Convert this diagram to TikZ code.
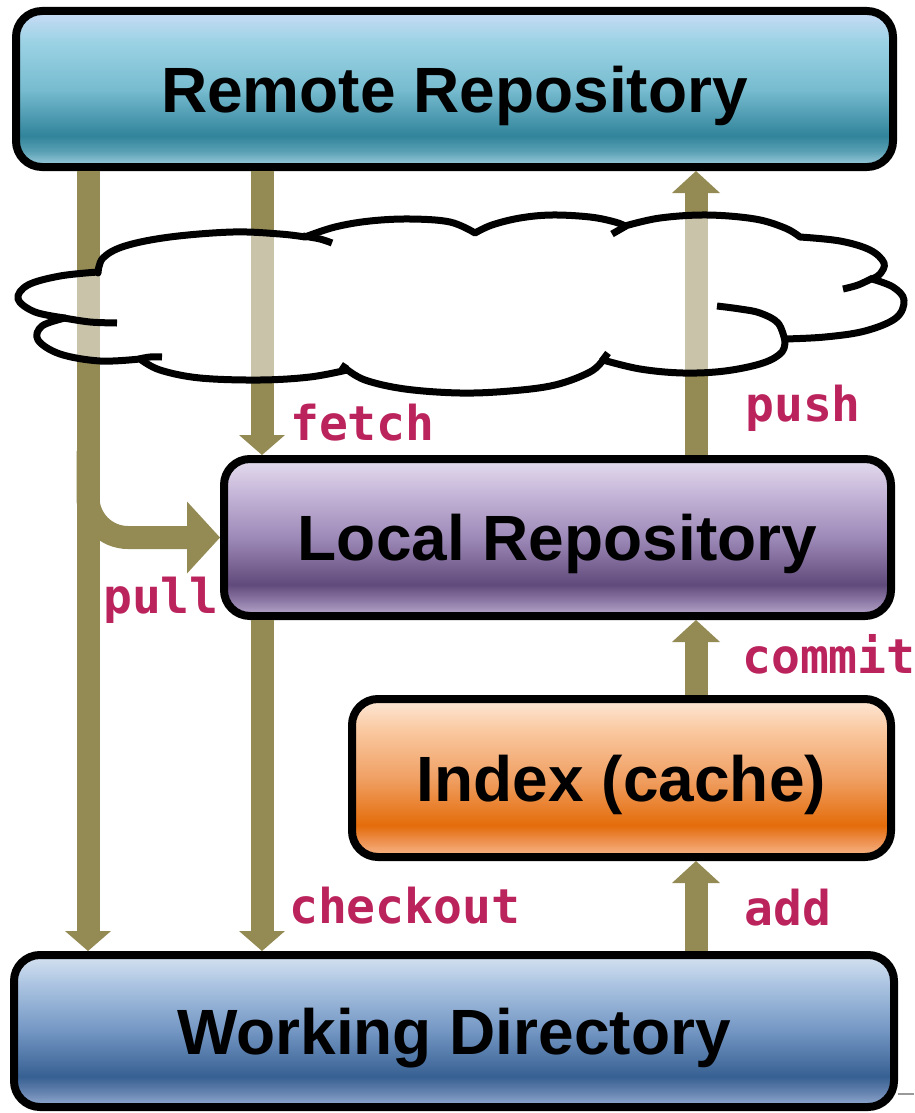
\documentclass[tikz,border=0pt]{standalone}
\usepackage{fontspec}
\setmainfont{Liberation Sans}
\newfontfamily\codefont{DejaVu Sans Mono}
\usetikzlibrary{calc}

% arrow and label colours
\definecolor{arrowcol}{RGB}{148,138,84}
\definecolor{labelcol}{RGB}{187,35,92}

% remote repository (teal)
\definecolor{remA}{RGB}{165,210,225}
\definecolor{remB}{RGB}{90,160,180}
\definecolor{remC}{RGB}{49,132,155}
\definecolor{remD}{RGB}{120,188,208}
\definecolor{remE}{RGB}{155,210,228}
\definecolor{remF}{RGB}{202,220,246}
% local repository (purple)
\definecolor{locA}{RGB}{185,170,205}
\definecolor{locB}{RGB}{140,120,165}
\definecolor{locC}{RGB}{96,74,123}
\definecolor{locD}{RGB}{158,138,184}
\definecolor{locE}{RGB}{200,185,218}
\definecolor{locF}{RGB}{228,220,238}
% index (orange)
\definecolor{idxA}{RGB}{248,185,140}
\definecolor{idxB}{RGB}{238,145,80}
\definecolor{idxC}{RGB}{228,108,10}
\definecolor{idxD}{RGB}{240,160,100}
\definecolor{idxE}{RGB}{250,200,160}
\definecolor{idxF}{RGB}{253,232,215}
% working directory (blue)
\definecolor{wrkA}{RGB}{150,175,210}
\definecolor{wrkB}{RGB}{100,130,175}
\definecolor{wrkC}{RGB}{55,96,146}
\definecolor{wrkD}{RGB}{115,150,195}
\definecolor{wrkE}{RGB}{170,195,225}
\definecolor{wrkF}{RGB}{214,226,240}

% glossy vertical fills: visible part runs from 25bp (bottom) to 75bp (top)
\pgfdeclareverticalshading{remoteshade}{100bp}{color(0bp)=(remA); color(25bp)=(remA); color(30bp)=(remB); color(35bp)=(remC); color(50bp)=(remD); color(65bp)=(remE); color(75bp)=(remF); color(100bp)=(remF)}
\pgfdeclareverticalshading{localshade}{100bp}{color(0bp)=(locA); color(25bp)=(locA); color(30bp)=(locB); color(35bp)=(locC); color(50bp)=(locD); color(65bp)=(locE); color(75bp)=(locF); color(100bp)=(locF)}
\pgfdeclareverticalshading{indexshade}{100bp}{color(0bp)=(idxA); color(25bp)=(idxA); color(30bp)=(idxB); color(35bp)=(idxC); color(50bp)=(idxD); color(65bp)=(idxE); color(75bp)=(idxF); color(100bp)=(idxF)}
\pgfdeclareverticalshading{workshade}{100bp}{color(0bp)=(wrkA); color(25bp)=(wrkA); color(30bp)=(wrkB); color(35bp)=(wrkC); color(50bp)=(wrkD); color(65bp)=(wrkE); color(75bp)=(wrkF); color(100bp)=(wrkF)}

% arrow heads (y axis points down)
\newcommand\downhead[1]{\fill[arrowcol] (#1) -- ++(-23,-20) -- ++(46,0) -- cycle;}
\newcommand\uphead[1]{\fill[arrowcol] (#1) -- ++(-24,22) -- ++(48,0) -- cycle;}

\begin{document}
\begin{tikzpicture}[x=1pt,y=-1pt,
  box/.style={draw=black, line width=8pt, rounded corners=26pt, inner sep=0pt,
    text depth=0pt, font=\fontsize{64}{70}\selectfont\bfseries},
  arrowshaft/.style={draw=arrowcol, line width=23pt},
  lbl/.style={text=labelcol, anchor=base west, inner sep=0pt,
    font=\fontsize{48}{50}\selectfont\codefont\bfseries},
  cloudedge/.style={draw=black, line width=7pt, line join=round},
  cloudtail/.style={draw=black, line width=7pt}]
\useasboundingbox (0,0) rectangle (914,1113);

% columns of the connectors
\coordinate (xl) at (88,0);
\coordinate (xm) at (262,0);
\coordinate (xr) at (696,0);

% the four stores
\node[box, shading=remoteshade, minimum width=877pt, minimum height=156pt, text depth=-6pt] (remote) at (454.5,89) {Remote Repository};
\node[box, shading=localshade, minimum width=667pt, minimum height=157pt] (local) at (557.5,537.5) {Local Repository};
\node[box, shading=indexshade, minimum width=539pt, minimum height=158pt] (index) at (621.5,778) {Index (cache)};
\node[box, shading=workshade, minimum width=880pt, minimum height=152pt] (working) at (454,1031) {Working Directory};

% pull
\draw[arrowshaft] (remote.south -| xl) -- ($(working.north -| xl)+(0,-19)$);
\downhead{working.north -| xl}
\draw[arrowshaft, rounded corners=40pt] ($(remote.south -| xl)+(0,280)$) |- ($(local.west)+(-32,0)$);
\fill[arrowcol] (local.west) -- ++(-33,-36) -- ++(0,72) -- cycle;
% fetch
\draw[arrowshaft] (remote.south -| xm) -- ($(local.north -| xm)+(0,-19)$);
\downhead{local.north -| xm}
% checkout
\draw[arrowshaft] (local.south -| xm) -- ($(working.north -| xm)+(0,-19)$);
\downhead{working.north -| xm}
% push
\draw[arrowshaft] (local.north -| xr) -- ($(remote.south -| xr)+(0,21)$);
\uphead{remote.south -| xr}
% commit
\draw[arrowshaft] (index.north -| xr) -- ($(local.south -| xr)+(0,21)$);
\uphead{local.south -| xr}
% add
\draw[arrowshaft] (working.north -| xr) -- ($(index.south -| xr)+(0,21)$);
\uphead{index.south -| xr}

% the network cloud, half transparent over the connectors
\path[cloudedge, fill=white, fill opacity=0.5]
  plot[smooth, tension=0.6] coordinates {(98,273) (103,258) (125,246) (170,237) (233,232) (280,234) (305,237)}
  -- plot[smooth, tension=0.6] coordinates {(305,237) (335,227) (370,221) (410,219) (450,222) (475,233)}
  -- plot[smooth, tension=0.6] coordinates {(475,233) (492,225) (520,218) (552,215) (590,217) (615,222) (625,226)}
  -- plot[smooth, tension=0.6] coordinates {(625,226) (660,218) (707,215) (755,219) (785,228) (800,237)}
  -- plot[smooth, tension=0.6] coordinates {(800,237) (840,241) (870,250) (884,263) (880,274) (872,279)}
  -- plot[smooth, tension=0.6] coordinates {(872,279) (893,287) (904,300) (896,318) (865,331) (825,337) (785,339)}
  -- plot[smooth, tension=0.6] coordinates {(785,339) (782,352) (763,363) (725,371) (683,373) (640,369) (603,360)}
  -- plot[smooth, tension=0.6] coordinates {(603,360) (590,372) (555,385) (510,391) (460,393) (405,389) (365,380) (345,368)}
  -- plot[smooth, tension=0.6] coordinates {(347,370) (310,377) (260,380) (200,378) (160,370) (140,359)}
  -- plot[smooth, tension=0.6] coordinates {(140,359) (100,361) (60,354) (38,340) (42,326) (65,318)}
  -- plot[smooth, tension=0.6] coordinates {(65,318) (35,312) (18,299) (28,285) (60,276) (98,272)}
  -- cycle;
% inner strokes of the cloud
\draw[cloudtail] plot[smooth, tension=0.6] coordinates {(303,236) (320,239) (332,243)};
\draw[cloudtail] (626,226) -- (612,234);
\draw[cloudtail] plot[smooth, tension=0.6] coordinates {(873,278) (858,285) (843,289)};
\draw[cloudtail] plot[smooth, tension=0.6] coordinates {(785,341) (778,323) (760,313) (740,309) (717,306)};
\draw[cloudtail] (602,361) -- (608,353);
\draw[cloudtail] (347,369) -- (341,365);
\draw[cloudtail] plot[smooth, tension=0.6] coordinates {(139,359) (150,357) (162,357)};
\draw[cloudtail] plot[smooth, tension=0.6] coordinates {(64,318) (90,322) (117,323)};

% command names
\node[lbl] (lfetch) at (290,440) {fetch};
\node[lbl] (lpush) at (745,421) {push};
\node[lbl] (lpull) at (103,613) {pull};
\node[lbl] (lcommit) at (742,673) {commit};
\node[lbl] (lcheckout) at (289,923) {checkout};
\node[lbl] (ladd) at (744,925) {add};

% short rule at the lower right edge
\draw[gray!80, line width=1.5pt] ($(working.east)+(0,63)$) -- (914,1094);
\end{tikzpicture}
\end{document}
